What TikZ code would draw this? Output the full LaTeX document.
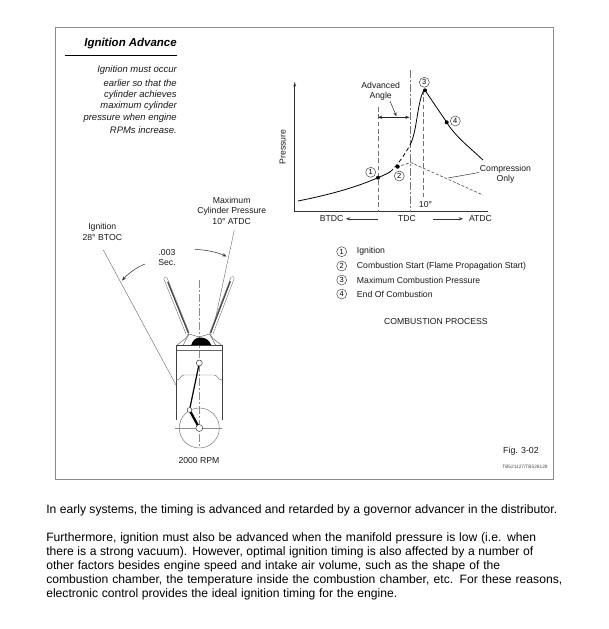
\documentclass[tikz,border=0pt]{standalone}
\usepackage{fontspec}
\setmainfont{Liberation Sans}
\usetikzlibrary{arrows.meta,calc}
\newcommand{\fitline}[2]{\hbox to #1{#2}}
\tikzset{
  lab/.style={font=\fontsize{6.5}{7.8}\selectfont,inner sep=0pt,align=center,text=black!90},
  leg/.style={font=\fontsize{6.5}{7.8}\selectfont,inner sep=0pt,anchor=west,text=black!90},
  para/.style={font=\fontsize{9.1}{10.5}\selectfont,inner sep=0pt,anchor=west},
  num/.style={circle,draw=black!75,line width=0.35pt,minimum size=7.5pt,inner sep=0pt,font=\fontsize{5.6}{6}\selectfont},
  dot/.style={circle,fill=black,minimum size=3pt,inner sep=0pt},
  side/.style={font=\itshape\fontsize{7.1}{9}\selectfont,inner sep=0pt,anchor=east,text=black!90},
  guide/.style={draw=black!55,line width=0.45pt},
  dsh/.style={guide,dash pattern=on 3.5pt off 2pt,line width=0.6pt},
  thin/.style={draw=black!60,line width=0.3pt},
  arr/.style={draw=black!80,line width=0.4pt,-{Stealth[length=3.2pt,width=2.4pt]}},
  valve/.style={line cap=round,line width=2.9pt,draw=black!60},
  valvein/.style={line cap=round,line width=2.2pt,draw=white},
  valvecore/.style={line width=0.9pt,draw=black!75},
}
\begin{document}
\begin{tikzpicture}[x=0.75pt,y=-0.75pt]
\useasboundingbox (0,0) rectangle (609,629);
% frame
\draw[draw=black!45,line width=0.5pt] (55.5,27) rectangle (553,479);
% title
\node[font=\bfseries\itshape\fontsize{8.6}{10}\selectfont,inner sep=0pt,anchor=east] (title) at (177,44) {Ignition Advance};
\coordinate (ruleL) at (65,55); \coordinate (ruleR) at (177,55);
\draw[line width=0.6pt] (ruleL) -- (ruleR);
\node[side] (s1) at (177,70) {Ignition must occur};
\node[side] (s2) at (177,83) {earlier so that the};
\node[side] (s3) at (177,95) {cylinder achieves};
\node[side] (s4) at (177,106.5) {maximum cylinder};
\node[side] (s5) at (177,118) {pressure when engine};
\node[side] (s6) at (177,130) {RPMs increase.};
% chart axes
\coordinate (O) at (294.7,211.7); \coordinate (Yt) at (294.7,82); \coordinate (Xr) at (488,211.7);
\draw[draw=black!80,line width=0.5pt,{Stealth[length=3.5pt,width=2.2pt]}-] (Yt) -- (O);
\draw[draw=black!80,line width=0.7pt] (O) -- (Xr);
\node[lab,rotate=90] (press) at (282.7,147) {Pressure};
% verticals
\coordinate (v1t) at (378,107); \coordinate (v1b) at (378,211.7);
\coordinate (v2t) at (410.7,70); \coordinate (v2b) at (410.7,211.7);
\coordinate (v3t) at (423.5,90); \coordinate (v3b) at (423.5,198);
\draw[dsh] (v1t) -- (v1b);
\draw[guide,line width=0.7pt,dash pattern=on 6pt off 1.5pt on 1.5pt off 1.5pt] (v2t) -- (v2b);
\draw[dsh] (v3t) -- (v3b);
% compression only
\coordinate (c0) at (397,167); \coordinate (c1) at (410.7,162.5); \coordinate (c2) at (483,195);
\draw[draw=black!70,line width=0.45pt,dash pattern=on 2.2pt off 1.3pt] (c0) -- (c1) -- (c2);
% pressure curve
\coordinate (p0) at (298,201); \coordinate (d1) at (378,177.7); \coordinate (d2) at (397.7,166.7);
\coordinate (e1) at (390,172); \coordinate (e2) at (410,145);
\coordinate (d3) at (425,90.3); \coordinate (d4) at (446.7,122.3); \coordinate (p9) at (483,160);
\draw[line width=0.6pt] (p0) .. controls (325,195.5) and (352,189) .. (d1) .. controls (382,176) and (386,174.2) .. (e1);
\draw[line width=0.6pt,dash pattern=on 3pt off 2pt] (e1) .. controls (396,167) and (404,156) .. (e2);
\draw[line width=0.6pt] (e2) .. controls (417,132) and (417,105) .. (423,92) -- (d3) -- (d4) .. controls (455,136) and (468,146) .. (p9);
\node[dot] (n1) at (d1) {}; \node[dot] (n2) at (d2) {}; \node[dot] (n3) at (d3) {}; \node[dot] (n4) at (d4) {};
\node[num] (c1n) at (370.7,172.3) {1};
\node[num] (c2n) at (399.3,176) {2};
\node[num] (c3n) at (424.3,82.3) {3};
\node[num] (c4n) at (455.3,121) {4};
% advanced angle
\node[lab] (adv) at (380.7,91) {Advanced\\Angle};
\coordinate (aa) at (378,117.3); \coordinate (ab) at (409.5,117.3);
\draw[draw=black!85,line width=0.45pt,{Stealth[length=3.2pt,width=2.4pt]}-{Stealth[length=3.2pt,width=2.4pt]}] (aa) -- (ab);
\coordinate (lead1) at (390,101); \coordinate (lead2) at (396.5,116.5);
\draw[arr] (lead1) -- (lead2);
% compression label
\node[lab] (comp) at (505.5,174) {Compression\\Only};
\coordinate (cl) at (448,178); \coordinate (cr) at (479,172.5);
\draw[draw=black!75,line width=0.4pt] (cl) -- (cr);
% x labels
\node[lab] (btdc) at (331.7,218.8) {BTDC};
\node[lab] (tdc) at (407,218.8) {TDC};
\node[lab] (atdc) at (480.5,218.8) {ATDC};
\node[lab] (ten) at (425.5,205) {10°};
\draw[arr] (378,218.8) -- (346,218.8);
\draw[arr] (433,218.8) -- (463,218.8);
% legend
\node[num] (l1) at (341.7,251.7) {1}; \node[leg] (t1) at (356.7,251.7) {Ignition};
\node[num] (l2) at (341.7,266) {2}; \node[leg] (t2) at (356.7,266) {Combustion Start (Flame Propagation Start)};
\node[num] (l3) at (341.7,280) {3}; \node[leg] (t3) at (356.7,280) {Maximum Combustion Pressure};
\node[num] (l4) at (341.7,294) {4}; \node[leg] (t4) at (356.7,294) {End Of Combustion};
\node[lab] (cp) at (436,322) {COMBUSTION PROCESS};
% engine labels
\node[lab] (ign) at (102.3,231.7) {Ignition\\28° BTOC};
\node[lab] (sec) at (167,257.5) {.003\\Sec.};
\node[lab] (max) at (231.7,210.7) {Maximum\\Cylinder Pressure\\10° ATDC};
\coordinate (i1) at (103.3,250); \coordinate (i2) at (176,385);
\coordinate (m1) at (234.3,230); \coordinate (m2) at (213,330);
\draw[thin] (i1) -- (i2);
\draw[thin] (m1) -- (m2);
\draw[arr] (145,264) .. controls (135,268) and (128,274) .. (122,280.5);
\draw[arr] (195,249.3) .. controls (206,250) and (217,252) .. (226.5,256.5);
% center line
\coordinate (cl1) at (199.3,280); \coordinate (cl2) at (199.3,448);
\draw[draw=black!45,line width=0.28pt,dash pattern=on 6pt off 1.5pt on 1.5pt off 1.5pt] (cl1) -- (cl2);
% valves
\coordinate (vl1) at (165.5,278.5); \coordinate (vl2) at (187.5,333);
\coordinate (vr1) at (232.5,278); \coordinate (vr2) at (211.5,333);
\draw[valve] (vl1) -- (vl2); \draw[valve] (vr1) -- (vr2);
\draw[valvein] (vl1) -- (vl2); \draw[valvein] (vr1) -- (vr2);
\draw[valvecore] ($(vl1)!0.06!(vl2)+(0.9,0)$) -- ($(vl2)+(0.9,0)$);
\draw[valvecore] ($(vr1)!0.06!(vr2)+(-0.9,0)$) -- ($(vr2)+(-0.9,0)$);
% valve heads & chamber
\draw[draw=black!60,line width=0.35pt] (176.5,345.5) -- (185,339) -- (189,334) -- (199.3,337) -- (209.5,334) -- (213.5,339) -- (222,345.5);
\draw[draw=black!60,line width=0.35pt] (183,345.5) -- (189,334) (216,345.5) -- (209.5,334);
\fill[black] (191,345.5) .. controls (193,339.5) and (196,337.5) .. (200.5,337.5) .. controls (205,337.5) and (209,339.5) .. (211.5,345.5) -- cycle;
% cylinder
\coordinate (cyTL) at (176.5,345.5); \coordinate (cyTR) at (222,345.5);
\coordinate (cyBL) at (176.5,420); \coordinate (cyBR) at (222,420);
\draw[draw=black!75,line width=0.65pt] (cyBL) -- (cyTL) -- (cyTR) -- (cyBR);
\draw[draw=black!60,line width=0.4pt] (177,350.5) -- (221.5,350.5);
% piston skirt
\draw[draw=black!55,line width=0.35pt] (176.5,380) .. controls (181,380) and (180,375) .. (184,375) -- (214,375) .. controls (218,375) and (217,380) .. (222,380);
% crank
\node[circle,draw=black!55,line width=0.35pt,minimum size=30pt,inner sep=0pt] (crank) at (199.3,428) {};
\draw[draw=black!45,line width=0.28pt] (175,428) -- (222,428);
\coordinate (wp) at (199.3,363); \coordinate (cp1) at (189.5,410); \coordinate (cc) at (199.3,428);
\draw[line width=0.9pt] (wp) -- (cp1);
\draw[line width=1.7pt] (cp1) -- (cc);
\node[circle,draw=black!80,fill=white,line width=0.35pt,minimum size=4.5pt,inner sep=0pt] (wpin) at (wp) {};
\node[circle,draw=black!80,fill=white,line width=0.35pt,minimum size=3.6pt,inner sep=0pt] (cpin) at (cp1) {};
\node[circle,draw=black!80,fill=white,line width=0.35pt,minimum size=5.2pt,inner sep=0pt] (cpc) at (cc) {};
\node[lab] (rpm) at (199,461) {2000 RPM};
% fig
\node[lab,font=\fontsize{6.6}{8}\selectfont] (fig) at (521,451.5) {Fig. 3-02};
\node[lab,font=\fontsize{3.6}{4}\selectfont,text=black!70] (tb) at (525,466.5) {TB521127/TB528128};
% paragraph
\node[para] (a1) at (46,510) {\fitline{383.25pt}{In early systems, the timing is advanced and retarded by a governor advancer in the distributor.}};
\node[para] (a2) at (46,538) {\fitline{367.5pt}{Furthermore, ignition must also be advanced when the manifold pressure is low (i.e. when}};
\node[para] (a3) at (46,552) {\fitline{365.25pt}{there is a strong vacuum). However, optimal ignition timing is also affected by a number of}};
\node[para] (a4) at (46,566) {\fitline{340.5pt}{other factors besides engine speed and intake air volume, such as the shape of the}};
\node[para] (a5) at (46,580) {\fitline{387pt}{combustion chamber, the temperature inside the combustion chamber, etc. For these reasons,}};
\node[para] (a6) at (46,594) {\fitline{263.25pt}{electronic control provides the ideal ignition timing for the engine.}};
\end{tikzpicture}
\end{document}
